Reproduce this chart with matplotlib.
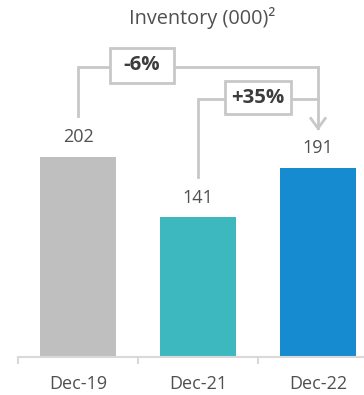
import matplotlib
matplotlib.use("Agg")
import matplotlib.pyplot as plt
from matplotlib.patches import Rectangle

plt.rcParams['font.family'] = ['Open Sans', 'DejaVu Sans']

# Inventory in thousands
periods = ["Dec-19", "Dec-21", "Dec-22"]
inventory = [202, 141, 191]
bar_colors = ["#bfbfbf", "#3eb8bf", "#168bd0"]

# change annotations: (from index, to index, label)
changes = [(0, 2, "-6%"), (1, 2, "+35%")]

LINE = "#c8c8c8"
TEXT = "#505050"

fig = plt.figure(figsize=(3.64, 3.95), dpi=100)
ax = fig.add_axes([18 / 364, 38 / 395, 1 - 18 / 364, 357 / 395])

x = range(len(periods))
ax.bar(x, inventory, width=0.633, color=bar_colors, zorder=2)
ax.set_xlim(-0.5, 2.383)
ax.set_ylim(0, 360.6)

for i, v in enumerate(inventory):
    ax.text(i, v + 20, str(v), ha="center", va="center", fontsize=13, color=TEXT)

# brackets above bars
levels = [293, 260.5]
box_x = [0.533, 1.5]
box_w = [0.533, 0.55]
box_h = [36, 34]
for (a, b, label), lvl, bx, bw, bh in zip(changes, levels, box_x, box_w, box_h):
    ax.plot([a, a, b], [inventory[a] + 41, lvl, lvl], color=LINE, lw=2, zorder=3,
            solid_joinstyle="miter", clip_on=False)
    ax.add_patch(Rectangle((bx - bw / 2, lvl + 1.5 - bh / 2), bw, bh, facecolor="white",
                           edgecolor=LINE, lw=2, zorder=4))
    ax.text(bx, lvl + 1.5, label, ha="center", va="center", fontsize=14.7,
            fontweight="bold", color="#3c3c3c", zorder=5)

# arrow down into the last bar
tip = inventory[2] + 40
ax.plot([2, 2], [levels[0], tip], color=LINE, lw=2, zorder=3)
ax.plot([2 - 0.06, 2, 2 + 0.06], [tip + 10, tip, tip + 10], color=LINE, lw=2,
        zorder=3, solid_joinstyle="miter")

for s in ["left", "top", "right"]:
    ax.spines[s].set_visible(False)
ax.spines["bottom"].set_color("#d9d9d9")
ax.spines["bottom"].set_linewidth(1.5)

ax.set_yticks([])
ax.set_xticks(list(x))
ax.set_xticklabels(periods, fontsize=13, color=TEXT)
ax.tick_params(axis="x", which="major", length=0, pad=13)
ax.set_xticks([-0.5, 0.5, 1.5], minor=True)
ax.tick_params(axis="x", which="minor", length=5, width=1.5, color="#d9d9d9")

fig.text(202 / 364, 1 - 18 / 395, "Inventory (000)²", ha="center", va="center",
         fontsize=14.3, color=TEXT)

fig.savefig("out.png", dpi=100)
